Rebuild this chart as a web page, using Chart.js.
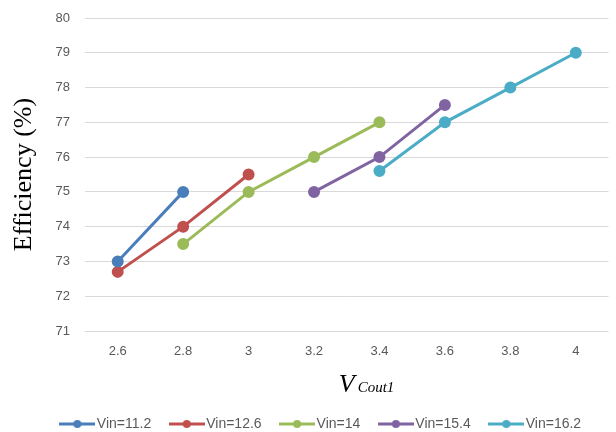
<!DOCTYPE html>
<html><head><meta charset="utf-8">
<script src="https://cdn.jsdelivr.net/npm/chart.js@4/dist/chart.umd.min.js"></script>
<style>html,body{margin:0;padding:0;background:#fff}#wrap{width:616px;height:432px}</style>
</head><body><div id="wrap"><canvas id="c" width="616" height="432"></canvas></div>
<script>
const categories = ['2.6', '2.8', '3', '3.2', '3.4', '3.6', '3.8', '4'];
const seriesNames = ['Vin=11.2', 'Vin=12.6', 'Vin=14', 'Vin=15.4', 'Vin=16.2'];
const vin112 = [73, 75, null, null, null, null, null, null];
const vin126 = [72.7, 74, 75.5, null, null, null, null, null];
const vin14  = [null, 73.5, 75, 76, 77, null, null, null];
const vin154 = [null, null, null, 75, 76, 77.5, null, null];
const vin162 = [null, null, null, null, 75.6, 77, 78, 79];
const yMin = 71, yMax = 80, yStep = 1;
const xTitleMain = 'V';
const xTitleSub = 'Cout1';
const yTitle = 'Efficiency (%)';
const colors = ['#4a7ebb', '#c0504d', '#9bbb59', '#8064a2', '#4bacc6'];
const seriesValues = [vin112, vin126, vin14, vin154, vin162];

function makeMarker(color) {
  const c = document.createElement('canvas');
  c.width = 36; c.height = 10;
  const g = c.getContext('2d');
  g.strokeStyle = color; g.lineWidth = 3;
  g.beginPath(); g.moveTo(0, 5); g.lineTo(36, 5); g.stroke();
  g.fillStyle = color;
  g.beginPath(); g.arc(18, 5, 4, 0, Math.PI * 2); g.fill();
  return c;
}
const markers = colors.map(makeMarker);

const TITLE_FONT = {family: '"Liberation Serif", "Times New Roman", serif', size: 26, style: 'italic'};

const customPlugin = {
  id: 'custom',
  afterLayout(chart) {
    const lg = chart.legend;
    if (lg) { lg.left += 17; lg.right += 17; lg.top += 9; lg.bottom += 9; }
  },
  afterDraw(chart) {
    const xs = chart.scales.x;
    const ctx = chart.ctx;
    const lh = TITLE_FONT.size * 1.2;
    const titleY = xs.bottom + 15.6 - lh / 2;
    const cx = (xs.left + xs.right) / 2;
    ctx.save();
    ctx.font = 'italic ' + TITLE_FONT.size + 'px ' + TITLE_FONT.family;
    ctx.textBaseline = 'middle';
    const m = ctx.measureText(xTitleMain);
    const baseY = titleY + m.actualBoundingBoxDescent;
    const startX = cx + m.width / 2 + 3;
    ctx.font = 'italic 15px ' + TITLE_FONT.family;
    ctx.textBaseline = 'alphabetic';
    ctx.textAlign = 'left';
    ctx.fillStyle = '#000';
    ctx.fillText(xTitleSub, startX, baseY);
    ctx.restore();
  }
};

new Chart(document.getElementById('c'), {
  type: 'line',
  data: {
    labels: categories,
    datasets: seriesNames.map((name, i) => ({
      label: name,
      data: seriesValues[i],
      borderColor: colors[i],
      backgroundColor: colors[i],
      pointBackgroundColor: colors[i],
      pointBorderColor: colors[i],
      borderWidth: 3,
      pointRadius: 4.5,
      pointHoverRadius: 4.5,
      tension: 0,
      fill: false
    }))
  },
  options: {
    responsive: false,
    animation: false,
    devicePixelRatio: 1,
    layout: {padding: {top: 18, right: 4, bottom: 0, left: 0}},
    plugins: {
      tooltip: {enabled: false},
      legend: {
        position: 'bottom',
        labels: {
          usePointStyle: true,
          pointStyleWidth: 25,
          padding: 23,
          color: '#595959',
          font: {family: '"Liberation Sans", Arial, sans-serif', size: 14},
          generateLabels(chart) {
            const items = Chart.defaults.plugins.legend.labels.generateLabels(chart);
            items.forEach((it, i) => { it.pointStyle = markers[i]; it.fontColor = '#595959'; });
            return items;
          }
        }
      }
    },
    scales: {
      x: {
        type: 'category',
        offset: true,
        grid: {display: false, drawTicks: false},
        border: {display: false},
        ticks: {color: '#595959', padding: 13, font: {family: '"Liberation Sans", Arial, sans-serif', size: 13}, maxRotation: 0},
        title: {display: true, text: xTitleMain, color: '#000', font: TITLE_FONT, padding: {top: 0, bottom: -15.6}},
        afterFit(s) { s.height = 54; }
      },
      y: {
        min: yMin, max: yMax,
        grid: {color: '#d9d9d9', lineWidth: 1, drawTicks: false},
        border: {display: false},
        ticks: {stepSize: yStep, color: '#595959', padding: 15, font: {family: '"Liberation Sans", Arial, sans-serif', size: 13}},
        title: {display: true, text: yTitle, color: '#000', font: {family: '"Liberation Serif", "Times New Roman", serif', size: 26}, padding: {top: 9, bottom: 0}},
        afterFit(s) { s.width = 85; s.paddingTop = 8; s.paddingBottom = 8; }
      }
    }
  },
  plugins: [customPlugin]
});
</script>
</body></html>
